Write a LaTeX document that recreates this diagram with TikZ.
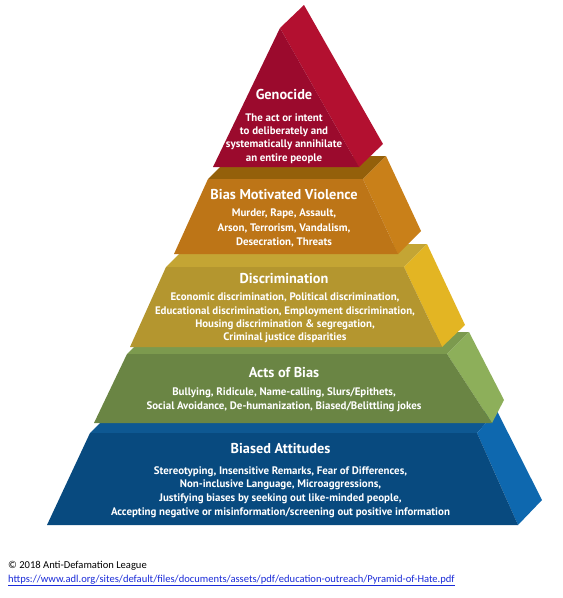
\documentclass[tikz,border=0pt]{standalone}
\usepackage{fontspec}
\setmainfont{Carlito}
\newfontfamily\pyrfont{PT Sans}
\definecolor{redF}{HTML}{9B0A2D}
\definecolor{redR}{HTML}{B31030}
\definecolor{oraT}{HTML}{94600A}
\definecolor{oraF}{HTML}{BD7517}
\definecolor{oraR}{HTML}{C98019}
\definecolor{golT}{HTML}{C4A534}
\definecolor{golF}{HTML}{B4962F}
\definecolor{golR}{HTML}{E3B523}
\definecolor{greT}{HTML}{7C9A4E}
\definecolor{greF}{HTML}{6A8544}
\definecolor{greR}{HTML}{8DAF5A}
\definecolor{bluT}{HTML}{0E5892}
\definecolor{bluF}{HTML}{084A7F}
\definecolor{bluR}{HTML}{0E68AF}
\definecolor{linkblue}{HTML}{1A2BD8}
\begin{document}
\begin{tikzpicture}[x=1pt,y=-1pt,
  title/.style={anchor=base,text=white,font=\pyrfont\bfseries\fontsize{14.3}{16}\selectfont,inner sep=0pt},
  desc/.style={anchor=base,text=white,font=\pyrfont\bfseries\fontsize{10.9}{12}\selectfont,inner sep=0pt},
  foot/.style={anchor=base west,inner sep=0pt,font=\fontsize{10.55}{12}\selectfont}]
\useasboundingbox (0,0) rectangle (563,598);
\fill[white] (0,0) rectangle (563,598);
% ---- Biased Attitudes (blue)
\fill[bluT] (90,433) -- (477,433) -- (497,411) -- (112,411) -- cycle;
\fill[bluR] (477,433) -- (497,411) -- (542,500) -- (518,525) -- cycle;
\fill[bluF] (90,433) -- (477,433) -- (518,525) -- (47,525) -- cycle;
% ---- Acts of Bias (green)
\fill[greT] (127,354) -- (447,354) -- (469,332) -- (149,332) -- cycle;
\fill[greR] (447,354) -- (469,332) -- (504,400) -- (492,423) -- cycle;
\fill[greF] (127,354) -- (447,354) -- (492,423) -- (94,423) -- cycle;
% ---- Discrimination (gold)
\fill[golT] (166,267) -- (404,267) -- (427,244) -- (189,244) -- cycle;
\fill[golR] (404,267) -- (427,244) -- (465,325) -- (442,347) -- cycle;
\fill[golF] (166,267) -- (404,267) -- (442,347) -- (130,347) -- cycle;
% ---- Bias Motivated Violence (orange)
\fill[oraT] (208,179) -- (363,179) -- (386,156) -- (231,156) -- cycle;
\fill[oraR] (363,179) -- (386,156) -- (421,231) -- (398,254) -- cycle;
\fill[oraF] (208,179) -- (363,179) -- (398,254) -- (174,254) -- cycle;
% ---- Genocide (red)
\fill[redR] (280,28) -- (304,5) -- (383,144) -- (359,167) -- cycle;
\fill[redF] (280,28) -- (359,167) -- (213,167) -- cycle;
% ---- texts
\node[title] (genT) at (284,99) {Genocide};
\foreach \yy/\txt [count=\i] in {121/The act or intent,134.3/to deliberately and,147.6/systematically annihilate,161/an entire people}
  \node[desc] (gen\i) at (284,\yy) {\txt};
\node[title] (bmvT) at (284,199) {Bias Motivated Violence};
\foreach \yy/\txt [count=\i] in {216.7/{Murder, Rape, Assault,},231.5/{Arson, Terrorism, Vandalism,},245/{Desecration, Threats}}
  \node[desc] (bmv\i) at (284,\yy) {\txt};
\node[title] (disT) at (284,283.3) {Discrimination};
\foreach \yy/\txt [count=\i] in {300/{Economic discrimination, Political discrimination,},314/{Educational discrimination, Employment discrimination,},327.3/{Housing discrimination \& segregation,},340.7/{Criminal justice disparities}}
  \node[desc] (dis\i) at (285,\yy) {\txt};
\node[title] (aobT) at (284,377.3) {Acts of Bias};
\foreach \yy/\txt [count=\i] in {395/{Bullying, Ridicule, Name-calling, Slurs/Epithets,},409/{Social Avoidance, De-humanization, Biased/Belittling jokes}}
  \node[desc] (aob\i) at (284,\yy) {\txt};
\node[title] (baT) at (280.5,453.3) {Biased Attitudes};
\foreach \yy/\txt [count=\i] in {474.3/{Stereotyping, Insensitive Remarks, Fear of Differences,},487.7/{Non-inclusive Language, Microaggressions,},501.7/{Justifying biases by seeking out like-minded people,},515/{Accepting negative or misinformation/screening out positive information}}
  \node[desc] (ba\i) at (280.5,\yy) {\txt};
% ---- footer
\node[foot] (copy) at (8,568.3) {© 2018 Anti-Defamation League};
\node[foot,text=linkblue] (url) at (8,582.3) {\underline{https://www.adl.org/sites/default/files/documents/assets/pdf/education-outreach/Pyramid-of-Hate.pdf}};
\end{tikzpicture}
\end{document}
